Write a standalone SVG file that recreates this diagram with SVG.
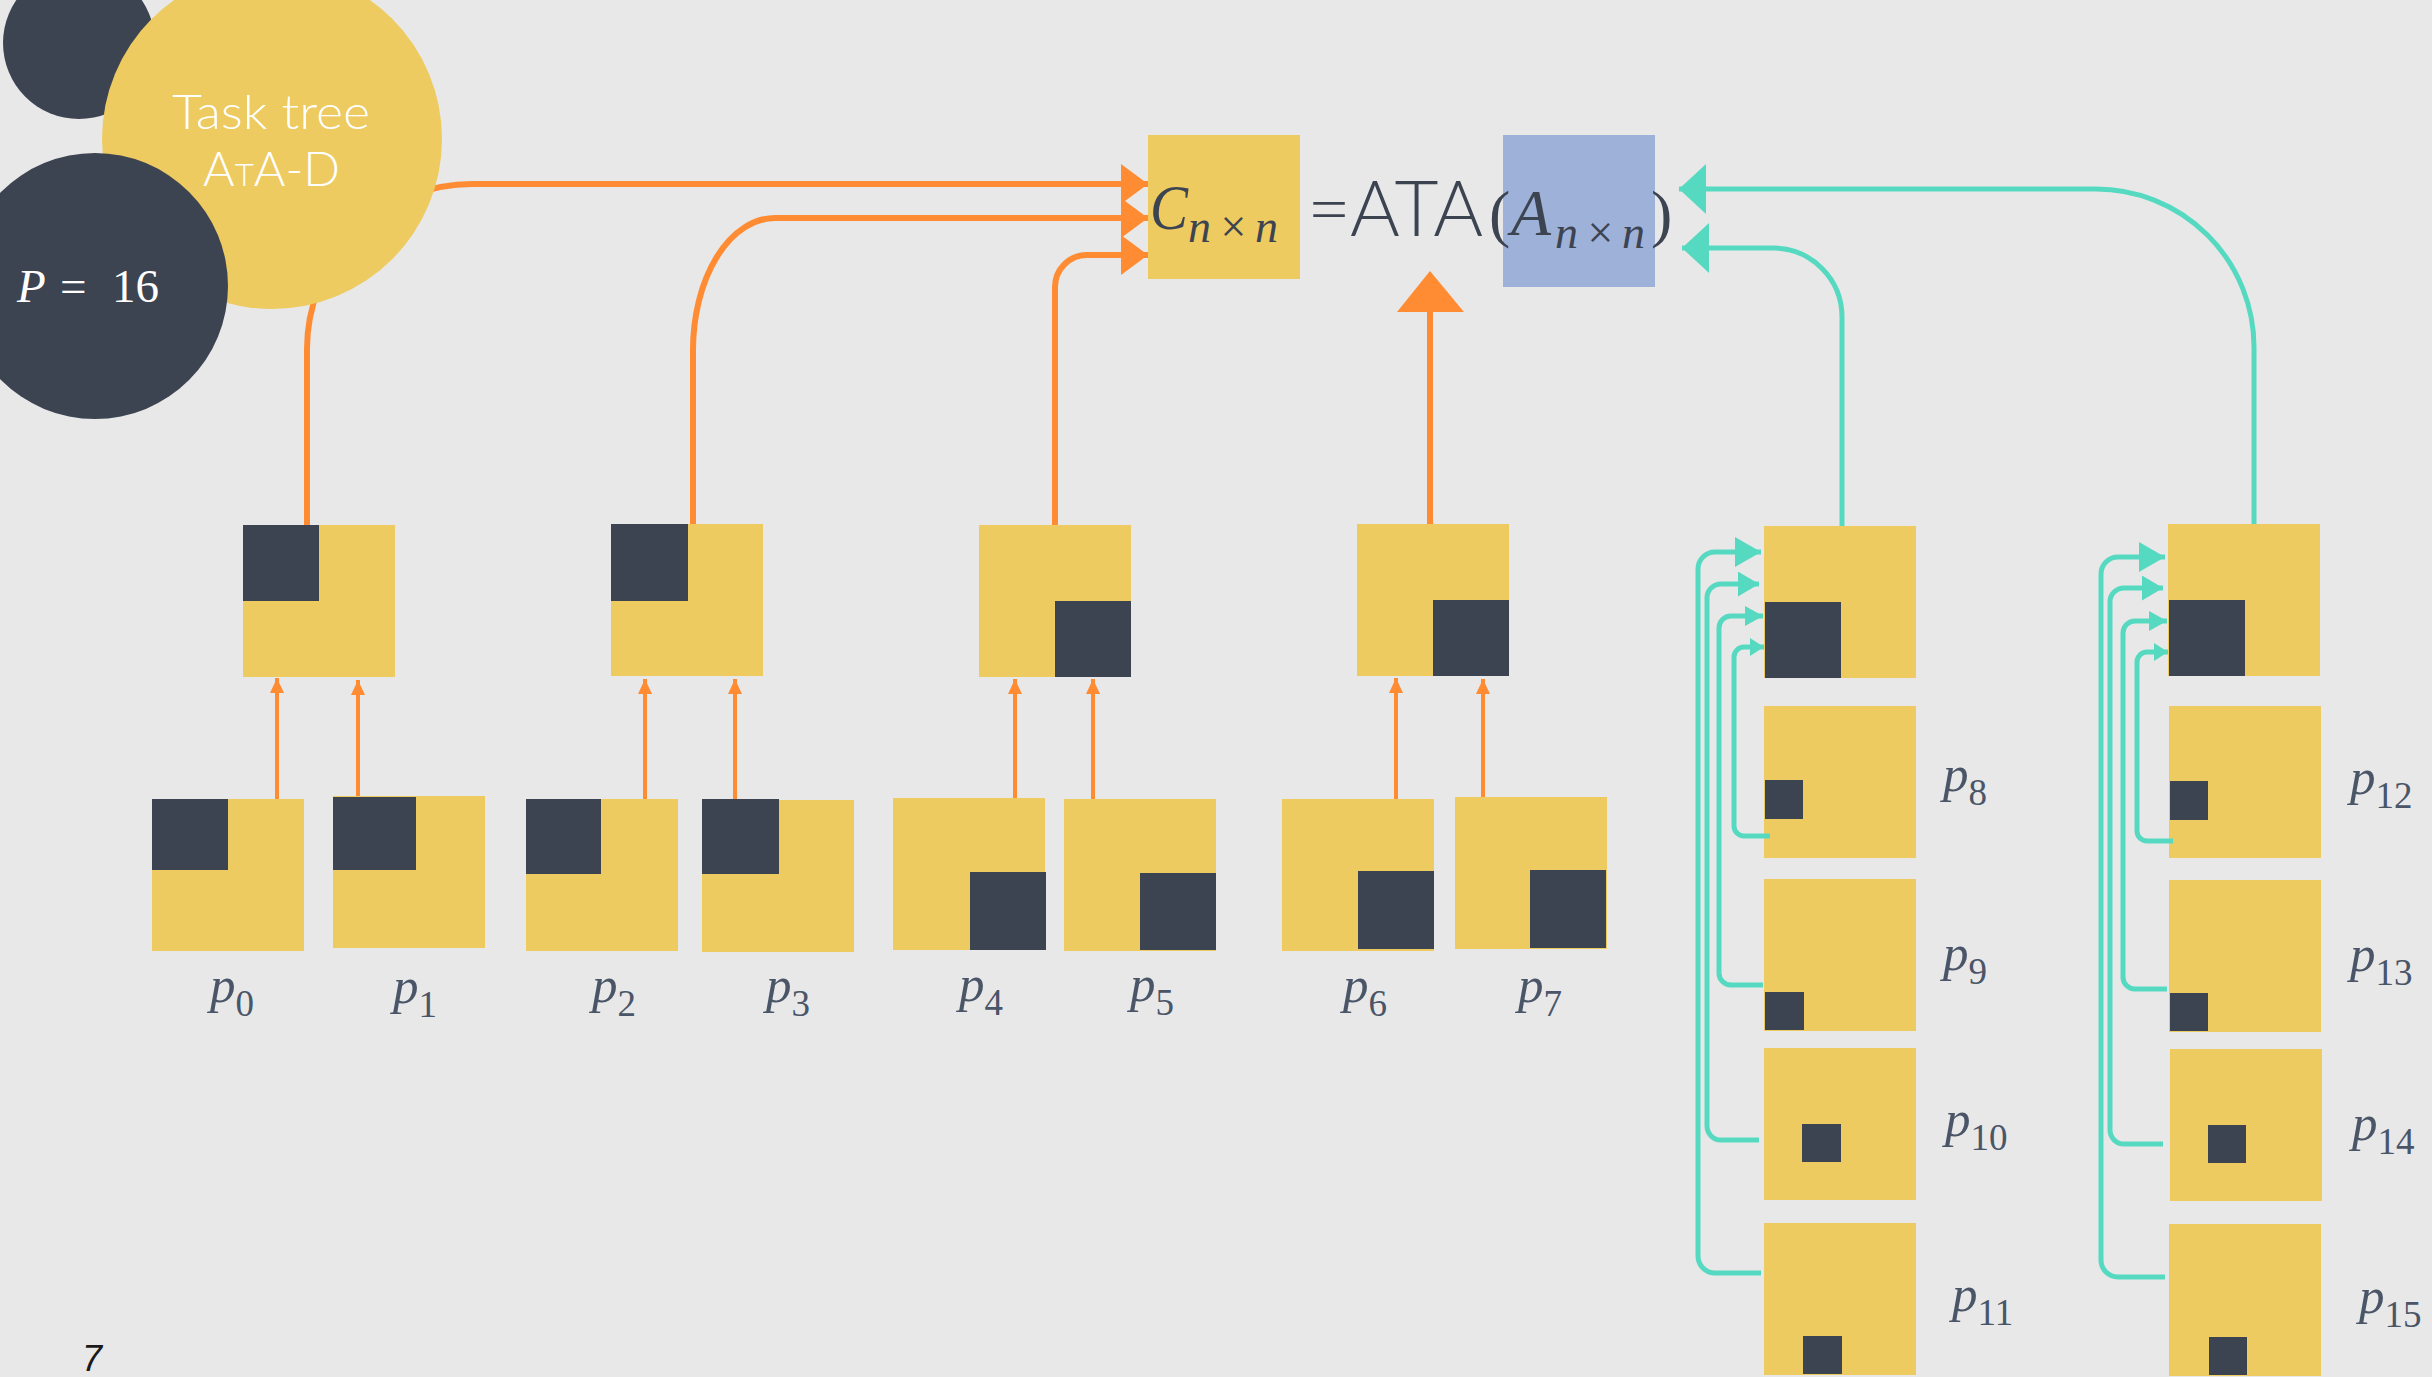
<svg xmlns="http://www.w3.org/2000/svg" width="2432" height="1377" viewBox="0 0 2432 1377">
<style>
.bg{fill:#E8E8E8}
.y{fill:#EDCB60}
.d{fill:#3D4451}
.bl{fill:#9DB1D9}
.o{fill:none;stroke:#FF8B33;stroke-width:6}
.os{fill:none;stroke:#FF8B33;stroke-width:4}
.t{fill:none;stroke:#56D9C1;stroke-width:5}
.lab{font-family:"Liberation Serif","DejaVu Serif",serif;font-size:51px;fill:#4A5568}
.lab .i{font-style:italic}
.lab .s{font-size:37px}
.math{font-family:"Liberation Serif","DejaVu Serif",serif;fill:#3D4451}
.mathw{font-family:"Liberation Serif","DejaVu Serif",serif;fill:#FFFFFF}
.sans{font-family:Lato,"Open Sans","Liberation Sans",sans-serif;font-weight:300}
.sd{fill:#3D4451}
.sw{fill:#FFFFFF}
</style>
<defs>
<marker id="oS" markerUnits="userSpaceOnUse" viewBox="0 0 15 14" refX="15" refY="7" markerWidth="15" markerHeight="14" orient="auto"><path d="M0,0L15,7L0,14z" fill="#FF8B33"/></marker>
<marker id="oB" markerUnits="userSpaceOnUse" viewBox="0 0 27 40" refX="27" refY="20" markerWidth="27" markerHeight="40" orient="auto"><path d="M0,0L27,20L0,40z" fill="#FF8B33"/></marker>
<marker id="tB" markerUnits="userSpaceOnUse" viewBox="0 0 27 50" refX="27" refY="25" markerWidth="27" markerHeight="50" orient="auto"><path d="M0,0L27,25L0,50z" fill="#56D9C1"/></marker>
<marker id="t1" markerUnits="userSpaceOnUse" viewBox="0 0 26 30" refX="26" refY="15" markerWidth="26" markerHeight="30" orient="auto"><path d="M0,0L26,15L0,30z" fill="#56D9C1"/></marker>
<marker id="t2" markerUnits="userSpaceOnUse" viewBox="0 0 21 25" refX="21" refY="12.5" markerWidth="21" markerHeight="25" orient="auto"><path d="M0,0L21,12.5L0,25z" fill="#56D9C1"/></marker>
<marker id="t3" markerUnits="userSpaceOnUse" viewBox="0 0 18 20" refX="18" refY="10" markerWidth="18" markerHeight="20" orient="auto"><path d="M0,0L18,10L0,20z" fill="#56D9C1"/></marker>
<marker id="t4" markerUnits="userSpaceOnUse" viewBox="0 0 14 18" refX="14" refY="9" markerWidth="14" markerHeight="18" orient="auto"><path d="M0,0L14,9L0,18z" fill="#56D9C1"/></marker>
</defs>
<rect class="bg" x="0" y="0" width="2432" height="1377"/>

<g id="node-C">
<rect class="y" x="1148" y="135" width="152" height="144"/>
</g>
<g id="node-A">
<rect class="bl" x="1503" y="135" width="152" height="152"/>
</g>
<g id="formula">
<text class="math" x="1150" y="229" font-size="64" font-style="italic" textLength="38" lengthAdjust="spacingAndGlyphs">C</text>
<text class="math" x="1188" y="242" font-size="46" font-style="italic" textLength="90" lengthAdjust="spacing">n×n</text>
<text class="sans sd" x="1307" y="236" font-size="76">=</text>
<text class="sans sd" x="1350" y="236" font-size="76" textLength="133" lengthAdjust="spacingAndGlyphs">ATA</text>
<text class="math" x="1489" y="235" font-size="64">(</text>
<text class="math" x="1511" y="235" font-size="66" font-style="italic" textLength="40" lengthAdjust="spacingAndGlyphs">A</text>
<text class="math" x="1555" y="248" font-size="46" font-style="italic" textLength="90" lengthAdjust="spacing">n×n</text>
<text class="math" x="1651" y="235" font-size="64">)</text>
</g>

<g id="parent-0-1"><rect class="y" x="243" y="525" width="152" height="152"/><rect class="d" x="243" y="525" width="76" height="76"/></g>
<g id="parent-2-3"><rect class="y" x="611" y="524" width="152" height="152"/><rect class="d" x="611" y="524" width="77" height="77"/></g>
<g id="parent-4-5"><rect class="y" x="979" y="525" width="152" height="152"/><rect class="d" x="1055" y="601" width="76" height="76"/></g>
<g id="parent-6-7"><rect class="y" x="1357" y="524" width="152" height="152"/><rect class="d" x="1433" y="600" width="76" height="76"/></g>

<g id="p0"><rect class="y" x="152" y="799" width="152" height="152"/><rect class="d" x="152" y="799" width="76" height="71"/><text class="lab" x="210" y="1002"><tspan class="i">p</tspan><tspan class="s" dy="14">0</tspan></text></g>
<g id="p1"><rect class="y" x="333" y="796" width="152" height="152"/><rect class="d" x="333" y="797" width="83" height="73"/><text class="lab" x="393" y="1003"><tspan class="i">p</tspan><tspan class="s" dy="14">1</tspan></text></g>
<g id="p2"><rect class="y" x="526" y="799" width="152" height="152"/><rect class="d" x="526" y="799" width="75" height="75"/><text class="lab" x="592" y="1002"><tspan class="i">p</tspan><tspan class="s" dy="14">2</tspan></text></g>
<g id="p3"><rect class="y" x="702" y="800" width="152" height="152"/><rect class="d" x="702" y="799" width="77" height="75"/><text class="lab" x="766" y="1002"><tspan class="i">p</tspan><tspan class="s" dy="14">3</tspan></text></g>
<g id="p4"><rect class="y" x="893" y="798" width="152" height="152"/><rect class="d" x="970" y="872" width="76" height="78"/><text class="lab" x="959" y="1001"><tspan class="i">p</tspan><tspan class="s" dy="14">4</tspan></text></g>
<g id="p5"><rect class="y" x="1064" y="799" width="152" height="152"/><rect class="d" x="1140" y="873" width="76" height="77"/><text class="lab" x="1130" y="1001"><tspan class="i">p</tspan><tspan class="s" dy="14">5</tspan></text></g>
<g id="p6"><rect class="y" x="1282" y="799" width="152" height="152"/><rect class="d" x="1358" y="871" width="76" height="78"/><text class="lab" x="1343" y="1002"><tspan class="i">p</tspan><tspan class="s" dy="14">6</tspan></text></g>
<g id="p7"><rect class="y" x="1455" y="797" width="152" height="152"/><rect class="d" x="1530" y="870" width="76" height="78"/><text class="lab" x="1518" y="1002"><tspan class="i">p</tspan><tspan class="s" dy="14">7</tspan></text></g>

<g id="col1-top"><rect class="y" x="1764" y="526" width="152" height="152"/><rect class="d" x="1765" y="602" width="76" height="76"/></g>
<g id="p8"><rect class="y" x="1764" y="706" width="152" height="152"/><rect class="d" x="1765" y="780" width="38" height="39"/><text class="lab" x="1943" y="791"><tspan class="i">p</tspan><tspan class="s" dy="14">8</tspan></text></g>
<g id="p9"><rect class="y" x="1764" y="879" width="152" height="152"/><rect class="d" x="1765" y="992" width="39" height="38"/><text class="lab" x="1943" y="970"><tspan class="i">p</tspan><tspan class="s" dy="14">9</tspan></text></g>
<g id="p10"><rect class="y" x="1764" y="1048" width="152" height="152"/><rect class="d" x="1802" y="1124" width="39" height="38"/><text class="lab" x="1945" y="1136"><tspan class="i">p</tspan><tspan class="s" dy="14">10</tspan></text></g>
<g id="p11"><rect class="y" x="1764" y="1223" width="152" height="152"/><rect class="d" x="1803" y="1336" width="39" height="38"/><text class="lab" x="1952" y="1311"><tspan class="i">p</tspan><tspan class="s" dy="14">11</tspan></text></g>

<g id="col2-top"><rect class="y" x="2168" y="524" width="152" height="152"/><rect class="d" x="2169" y="600" width="76" height="76"/></g>
<g id="p12"><rect class="y" x="2169" y="706" width="152" height="152"/><rect class="d" x="2170" y="781" width="38" height="39"/><text class="lab" x="2350" y="794"><tspan class="i">p</tspan><tspan class="s" dy="14">12</tspan></text></g>
<g id="p13"><rect class="y" x="2169" y="880" width="152" height="152"/><rect class="d" x="2170" y="993" width="38" height="38"/><text class="lab" x="2350" y="971"><tspan class="i">p</tspan><tspan class="s" dy="14">13</tspan></text></g>
<g id="p14"><rect class="y" x="2170" y="1049" width="152" height="152"/><rect class="d" x="2208" y="1125" width="38" height="38"/><text class="lab" x="2352" y="1140"><tspan class="i">p</tspan><tspan class="s" dy="14">14</tspan></text></g>
<g id="p15"><rect class="y" x="2169" y="1224" width="152" height="152"/><rect class="d" x="2209" y="1337" width="38" height="38"/><text class="lab" x="2359" y="1313"><tspan class="i">p</tspan><tspan class="s" dy="14">15</tspan></text></g>

<g id="connectors">
<path class="os" d="M277,799V678" marker-end="url(#oS)"/>
<path class="os" d="M358,796V680" marker-end="url(#oS)"/>
<path class="os" d="M645,799V679" marker-end="url(#oS)"/>
<path class="os" d="M735,799V679" marker-end="url(#oS)"/>
<path class="os" d="M1015,798V679" marker-end="url(#oS)"/>
<path class="os" d="M1093,799V679" marker-end="url(#oS)"/>
<path class="os" d="M1396,799V678" marker-end="url(#oS)"/>
<path class="os" d="M1483,797V679" marker-end="url(#oS)"/>
<path class="o" d="M307,525V349A165,165 0 0 1 472,184H1148" marker-end="url(#oB)"/>
<path class="o" d="M693,524V350A82,132 0 0 1 775,218H1148" marker-end="url(#oB)"/>
<path class="o" d="M1055,525V287A32,32 0 0 1 1087,255H1148" marker-end="url(#oB)"/>
<path class="o" d="M1430,524V310"/>
<polygon points="1430,271 1397,312 1464,312" fill="#FF8B33"/>
<path class="t" d="M2254,524V347A158,158 0 0 0 2096,189H1679" marker-end="url(#tB)"/>
<path class="t" d="M1842,526V317A69,69 0 0 0 1773,248H1682" marker-end="url(#tB)"/>
<path class="t" d="M1761,1273H1715A17,17 0 0 1 1698,1256V569A17,17 0 0 1 1715,552H1761" marker-end="url(#t1)"/>
<path class="t" d="M1759,1140H1721A14,14 0 0 1 1707,1126V598A14,14 0 0 1 1721,584H1759" marker-end="url(#t2)"/>
<path class="t" d="M1763,985H1731A12,12 0 0 1 1719,973V628A12,12 0 0 1 1731,616H1763" marker-end="url(#t3)"/>
<path class="t" d="M1770,836H1744A10,10 0 0 1 1734,826V657A10,10 0 0 1 1744,647H1764" marker-end="url(#t4)"/>
<path class="t" d="M2165,1277H2118A17,17 0 0 1 2101,1260V574A17,17 0 0 1 2118,557H2165" marker-end="url(#t1)"/>
<path class="t" d="M2163,1144H2124A14,14 0 0 1 2110,1130V602A14,14 0 0 1 2124,588H2163" marker-end="url(#t2)"/>
<path class="t" d="M2167,989H2135A12,12 0 0 1 2123,977V633A12,12 0 0 1 2135,621H2167" marker-end="url(#t3)"/>
<path class="t" d="M2173,841H2147A10,10 0 0 1 2137,831V662A10,10 0 0 1 2147,652H2168" marker-end="url(#t4)"/>
</g>

<g id="deco-circle">
<circle class="d" cx="79" cy="43" r="76"/>
</g>
<g id="task-tree">
<circle class="y" cx="272" cy="139" r="170"/>
<text class="sans sw" x="271" y="129" font-size="48" text-anchor="middle" textLength="198" lengthAdjust="spacingAndGlyphs">Task tree</text>
<text class="sans sw" x="203" y="186" font-size="47" textLength="137" lengthAdjust="spacingAndGlyphs">A<tspan font-size="32">T</tspan>A-D</text>
</g>
<g id="P16">
<circle class="d" cx="95" cy="286" r="133"/>
<text class="mathw" x="17" y="302" font-size="47"><tspan font-style="italic">P</tspan><tspan x="60">=</tspan><tspan x="112">16</tspan></text>
</g>
<text x="82" y="1371" font-family="Liberation Sans, sans-serif" font-size="36" font-style="italic" fill="#1A1A1A">7</text>
</svg>
